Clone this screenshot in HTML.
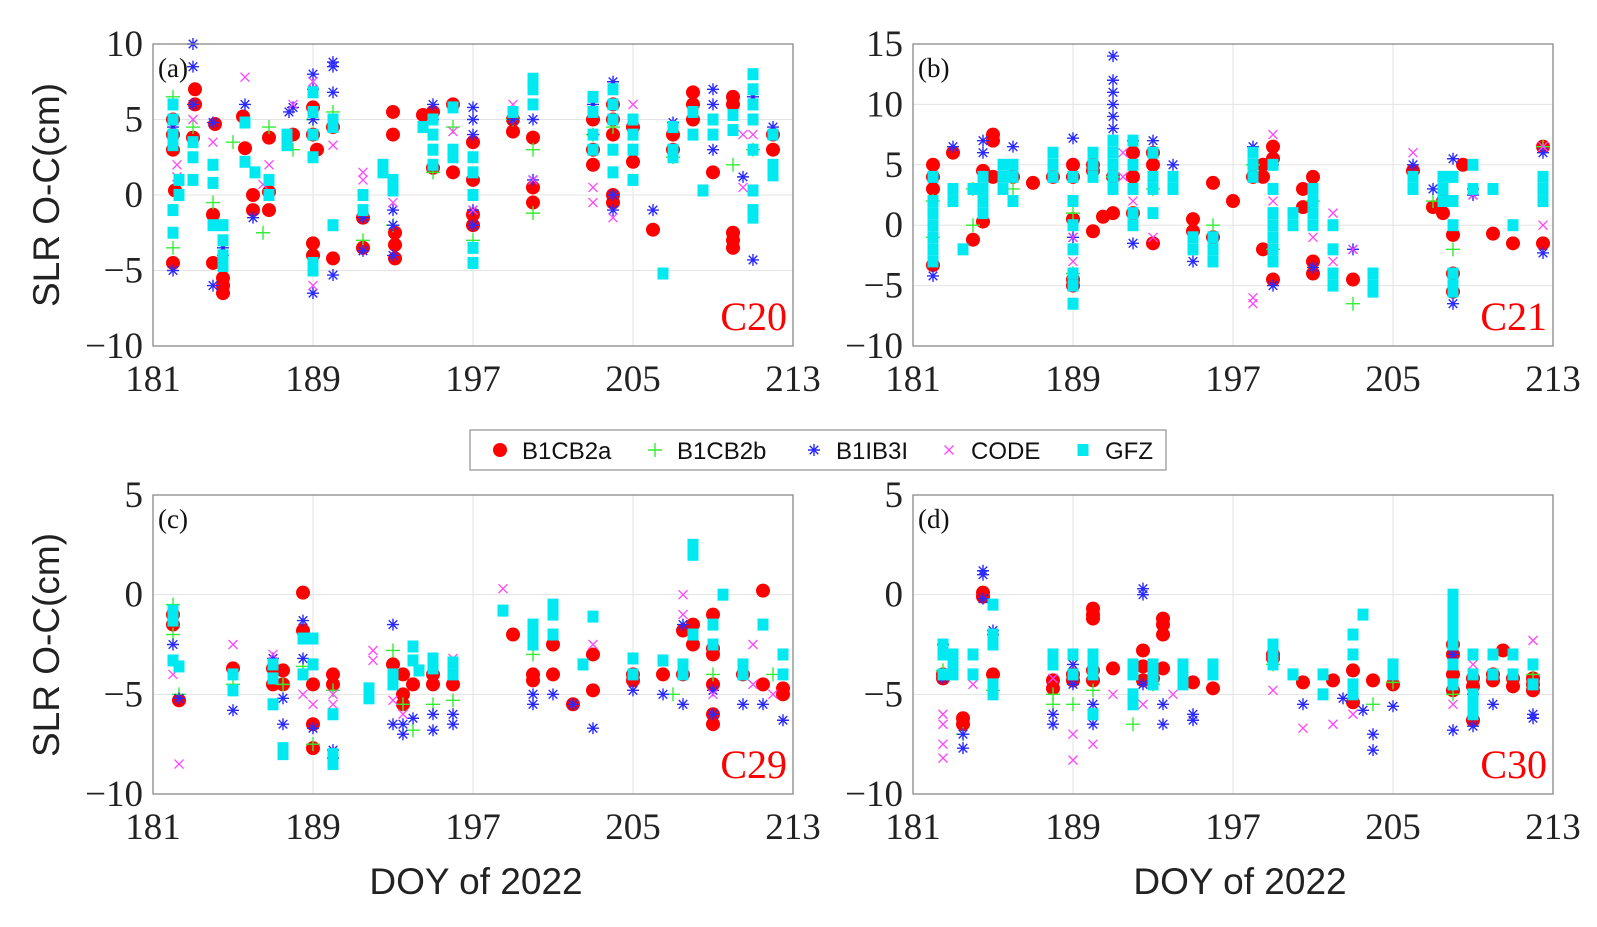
<!DOCTYPE html>
<html><head><meta charset="utf-8">
<style>
html,body{margin:0;padding:0;background:#fff;}
svg{display:block;}
.tick{font-family:"Liberation Serif",serif;font-size:37px;fill:#222;}
.ttl{font-family:"Liberation Sans",sans-serif;font-size:37px;fill:#222;}
.plab{font-family:"Liberation Serif",serif;font-size:27px;fill:#111;}
.sat{font-family:"Liberation Serif",serif;font-size:40px;fill:#ff0000;}
.leg{font-family:"Liberation Sans",sans-serif;font-size:24px;fill:#111;}
</style></head>
<body>
<svg id="chart" width="1597" height="927" viewBox="0 0 1597 927" xmlns="http://www.w3.org/2000/svg"></svg>
<script>
// ---------- data: [doy, residual cm] ----------
const a_B1CB2a=[[182,-4.5],[182,5],[182,4],[182,3],[182.1,0.3],[183.1,7],[183.1,6],[183,3.8],[184.1,4.7],[184,-1.3],[184,-4.5],[184.5,-5.5],[184.5,-6],[184.5,-6.5],[185.5,5.2],[185.6,3.1],[186,0],[186,-1],[186.8,3.8],[186.8,-1],[186.8,0.2],[188,4],[189,-3.2],[189,-4],[189,5.8],[189,4],[189.2,3],[190,-4.2],[190,4.5],[191.5,-1.5],[191.5,-3.5],[193,5.5],[193,4],[193.1,-2.5],[193.1,-3.3],[193.1,-4.2],[194.5,5.3],[195,5.5],[195,1.8],[196,6],[196,1.5],[197,3.5],[197,1],[197,-1.3],[197,-2],[199,5],[199,4.2],[200,3.8],[200,0.5],[200,-0.5],[203,5],[203,3],[203,2],[204,6],[204,5],[204,4],[204,0],[204,-0.5],[205,4.5],[205,2.2],[206,-2.3],[207,4],[207,3],[208,6.8],[208,6],[208,5],[209,1.5],[210,6.5],[210,6],[210,-2.5],[210,-3],[210,-3.5],[212,4],[212,3]];
const a_B1CB2b=[[182,-3.5],[182,6.5],[183,4.5],[184,-0.5],[185,3.5],[186.5,-2.5],[186.8,4.5],[188,3],[189,5],[190,5.5],[191.5,-3],[193,-2],[195,1.5],[196,4.5],[197,-3],[199,5],[200,-1.2],[200,3],[203,4],[204,4.5],[207,2.5],[210,2],[211,3]];
const a_B1IB3I=[[182,-5],[182,4.5],[183,10],[183,8.5],[183,6],[184,-6],[184,4.8],[184.5,-4],[184.5,-3.5],[185.6,6],[186,-1.5],[187.8,5.5],[188,5.8],[189,-6.5],[189,8],[189,7],[189,5],[190,8.8],[190,8.5],[190,6.8],[190,-5.3],[191.5,-3.7],[191.5,-1.5],[193,-1],[193,-2],[193,-4],[195,6],[195,5],[197,5.8],[197,5],[197,4],[197,-1],[197,-2],[199,5],[200,5],[200,1],[203,6],[203,4],[204,7.5],[204,6],[204,0],[204,-1],[206,-1],[207,4.8],[207,3],[209,7],[209,6],[209,3],[210.5,1.2],[211,6.5],[211,-4.3],[212,4.5]];
const a_CODE=[[182.2,2],[182.2,1.2],[183,5],[184,3.5],[185.6,7.8],[186.5,0.7],[186.8,2],[188,6],[189,-6],[189,7.5],[190,3.3],[191.5,1.5],[191.5,1],[193,-0.5],[195,3],[196,4.2],[197,-1],[199,6],[200,1],[203,0.5],[203,-0.5],[204,-1.5],[205,6],[208,4],[210.5,4],[210.5,0.5],[211,4]];
const a_GFZ=[[182,6],[182,5],[182,4],[182,3.3],[182,-1],[182,-2.5],[182.3,1],[182.3,0],[183,3.5],[183,2.5],[183,1],[184,2],[184,0.8],[184,-2],[184.5,-2],[184.5,-3],[184.5,-4],[184.5,-4.7],[185.6,4.8],[185.6,2.2],[186.1,1.5],[186.8,1],[186.8,0],[187.7,4],[187.7,3.3],[189,-4.5],[189,-5],[189,6.8],[189,5.5],[189,4],[189,2.5],[190,-2],[190,4.5],[190,5],[191.5,0],[191.5,-1],[192.5,2],[192.5,1.5],[193,1],[193,0.3],[194.5,4.5],[195,5],[195,4],[195,3],[195,2],[196,5.8],[196,3],[196,2.5],[197,2.5],[197,1.5],[197,0],[197,-3.5],[197,-4.5],[199,5.5],[200,7.7],[200,7],[200,6],[203,6.5],[203,5.5],[203,4],[203,3],[204,7],[204,6],[204,5],[204,3],[204,1.5],[205,5],[205,4],[205,3],[205,1],[206.5,-5.2],[207,4.5],[207,3],[207,2.5],[208,5.5],[208,4],[208.5,0.3],[209,5],[209,4],[210,5.3],[210,4.3],[211,8],[211,7],[211,6],[211,5],[211,3],[211,0.3],[211,-1],[211,-1.5],[212,4],[212,2],[212,1.3]];

const b_B1CB2a=[[182,5],[182,4],[182,3],[182,-3.3],[183,6],[184,-1.2],[184.5,4.5],[184.5,0.3],[185,7.5],[185,7],[185,4],[186,4],[187,3.5],[188,4],[189,5],[189,4],[189,0.5],[189,-4.5],[189,-5],[190,5],[190,4.5],[190,-0.5],[190.5,0.7],[191,1],[191,4],[192,6],[192,4],[192,1],[193,6],[193,5],[193,-1.5],[195,0.5],[195,-0.5],[196,3.5],[196,-1],[197,2],[198,4],[198.5,5],[198.5,4],[198.5,-2],[199,5.5],[199,6.5],[199,-4.5],[200.5,3],[200.5,1.5],[201,4],[201,-3],[201,-4],[203,-4.5],[206,4.5],[207,1.5],[207.5,2],[207.5,1],[208,-0.8],[208,-4],[208,-5.5],[208.5,5],[210,-0.7],[211,-1.5],[212.5,6.5],[212.5,-1.5]];
const b_B1CB2b=[[182,2],[182,-1],[184,3],[184,0],[186,3],[189,-4],[189,1],[191,4],[193,3],[196,0],[198,5],[199,-2],[201,2],[203,-6.5],[207,2],[208,-2],[212.5,6.5]];
const b_B1IB3I=[[182,-4.2],[182,4],[183,6.5],[184.5,6],[184.5,7],[186,6.5],[189,7.2],[189,-1],[189,-5],[191,14],[191,12],[191,11],[191,10],[191,9],[191,8],[192,7],[192,-1.5],[193,7],[194,5],[195,-3],[196,-1],[198,6.5],[199,5],[199,-5],[201,-3.5],[203,-2],[206,5],[207,3],[208,5.5],[208,-6.5],[209,3],[209,2.5],[212.5,6],[212.5,-2.3]];
const b_CODE=[[189,-1],[189,-3],[191.5,6],[191.5,4],[192,3],[192,2],[193,-1],[198,-6.5],[198,-6],[199,7.5],[199,2],[201,-1],[202,-2],[202,-3],[202,1],[203,-2],[206,6],[209,2.5],[212.5,6.5],[212.5,0]];
const b_GFZ=[[182,4],[182,2],[182,1],[182,0],[182,-1],[182,-2],[182,-3],[183,3],[183,2],[183.5,-2],[184,3],[184.5,4],[184.5,3],[184.5,2],[184.5,1],[185.5,5],[185.5,4],[185.5,3],[186,5],[186,4],[186,2],[188,6],[188,5],[188,4],[189,4],[189,2],[189,0],[189,-2],[189,-4],[189,-5],[189,-6.5],[190,6],[190,5],[190,4],[191,7],[191,6],[191,5],[191,4],[191,3],[192,7],[192,5],[192,3],[192,1],[192,0],[193,6],[193,4],[193,3],[193,1],[194,4],[194,3],[195,-1],[195,-2],[196,-1],[196,-2],[196,-3],[198,6],[198,5],[198,4],[199,5],[199,3],[199,1],[199,0],[199,-1],[199,-2],[199,-3],[200,1],[200,0],[201,3],[201,2],[201,1],[201,0],[202,0],[202,-2],[202,-4],[202,-5],[204,-4],[204,-5],[204,-5.5],[206,4],[206,3],[207.5,4],[207.5,3],[207.5,2],[208,4],[208,2],[208,0],[208,-4],[208,-5],[208,-5.5],[209,5],[209,3],[210,3],[211,0],[212.5,4],[212.5,3],[212.5,2]];

const c_B1CB2a=[[182,-1],[182,-1.5],[182.3,-5.3],[185,-3.7],[187,-3.7],[187,-4.5],[187.5,-4.5],[187.5,-3.8],[188.5,0.1],[188.5,-1.8],[189,-4.5],[189,-6.5],[189,-7.7],[190,-4],[190,-4.5],[193,-3.5],[193.5,-4],[193.5,-5],[193.5,-5.5],[194,-4.5],[195,-4.5],[195,-4],[196,-4.5],[199,-2],[200,-4],[200,-4.3],[201,-2.5],[201,-4],[202,-5.5],[203,-3],[203,-4.8],[205,-4],[205,-4.3],[206.5,-4],[207.5,-4],[207.5,-1.8],[208,-1.5],[208,-2.5],[209,-6],[209,-6.5],[209,-4.5],[209,-3],[209,-1],[209,-2.7],[210.5,-4],[211.5,0.2],[211.5,-4.5],[212.5,-5],[212.5,-4.7]];
const c_B1CB2b=[[182,-0.5],[182,-2],[182.3,-5],[185,-4.5],[187.5,-4.5],[188.5,-3.6],[189,-7.5],[190,-4.8],[193,-2.8],[193.5,-5.5],[194,-6.8],[195,-5.5],[196,-5.3],[200,-3],[207,-5],[209,-4],[212,-4]];
const c_B1IB3I=[[182,-2.5],[182.3,-5.2],[185,-5.8],[187,-3.2],[187.5,-5.2],[187.5,-6.5],[188.5,-1.3],[188.5,-3.2],[189,-6.7],[190,-7.8],[190,-8.2],[193,-1.5],[193,-6.5],[193.5,-7],[193.5,-6.5],[194,-6.2],[195,-6.8],[195,-6],[196,-6],[196,-6.5],[200,-5],[200,-5.5],[201,-5],[202,-5.5],[203,-6.7],[205,-4.8],[206.5,-5],[207.5,-5.5],[207.5,-1.5],[209,-6],[209,-4.8],[210.5,-5.5],[211.5,-5.5],[212.5,-6.3]];
const c_CODE=[[182,-4],[182.3,-8.5],[185,-2.5],[187,-3],[188.5,-5],[189,-5.5],[190,-5],[190,-5.5],[192,-2.8],[192,-3.3],[193,-5.3],[193.5,-6],[196,-3.2],[198.5,0.3],[200,-1.5],[201,-2],[203,-2.5],[207.5,0],[207.5,-1],[209,-5],[211,-2.5],[211,-4.5],[212,-5]];
const c_GFZ=[[182,-0.8],[182,-1.3],[182,-3.3],[182.3,-3.6],[185,-4],[185,-4.8],[187,-3.5],[187,-4.2],[187,-5.5],[187.5,-7.7],[187.5,-8],[188.5,-2.2],[188.5,-4],[189,-2.2],[189,-3.5],[190,-8.5],[190,-8],[190,-6],[191.8,-4.7],[191.8,-5.2],[193,-4.5],[193,-4],[194,-2.6],[194,-3.3],[194.3,-3.8],[195,-3.2],[195,-3.7],[196,-3.4],[196,-4],[198.5,-0.8],[200,-2],[200,-1.5],[200,-2.5],[201,-0.5],[201,-1],[201,-2],[202.5,-3.5],[203,-1.1],[205,-3.2],[205,-4],[206.5,-3.3],[207.5,-3.5],[207.5,-4],[208,2.5],[208,2],[208,-2],[209,-1.5],[209,-2.5],[209.5,0],[210.5,-3.5],[210.5,-4],[211.5,-1.5],[212.5,-3],[212.5,-4]];

const d_B1CB2a=[[182.5,-4],[182.5,-4.2],[183.5,-6.2],[183.5,-6.5],[184.5,0.1],[184.5,-0.1],[185,-4],[188,-4.3],[188,-4.7],[189,-4],[189,-4.3],[190,-0.7],[190,-1],[190,-1.2],[190,-3.8],[190,-4.3],[191,-3.7],[192.5,-2.8],[192.5,-3.6],[192.5,-4.3],[193,-4.2],[193.5,-1.2],[193.5,-1.5],[193.5,-2],[193.5,-3.7],[195,-4.4],[196,-4.7],[199,-3],[199,-3.2],[200.5,-4.4],[202,-4.3],[203,-5.4],[203,-3.8],[204,-4.3],[205,-4.5],[208,-2.5],[208,-3],[208,-4],[208,-4.8],[209,-4.2],[209,-4.6],[209,-6.3],[210,-4],[210,-4.3],[210.5,-2.8],[211,-4.2],[211,-4.6],[212,-4.2],[212,-4.5],[212,-4.8]];
const d_B1CB2b=[[182.5,-3.8],[183.5,-7],[185,-4.8],[188,-5.5],[188,-5],[189,-5.5],[190,-4.8],[192,-6.5],[193,-4.5],[199,-3.5],[204,-5.5],[205,-4.4],[208,-5],[212,-4]];
const d_B1IB3I=[[182.5,-2.5],[182.5,-4.2],[183.5,-7],[183.5,-7.7],[184.5,1.2],[184.5,1],[184.5,-0.2],[185,-2],[185,-1.8],[188,-6],[188,-6.5],[189,-3.5],[189,-4.5],[190,-5.5],[190,-6.5],[192.5,0.3],[192.5,0],[192.5,-4.5],[193.5,-5.5],[193.5,-6.5],[195,-6],[195,-6.3],[199,-3],[200.5,-5.5],[202.5,-5.2],[203.5,-5.8],[204,-7],[204,-7.8],[205,-5.6],[208,-3],[208,-6.8],[209,-5],[209,-6.6],[210,-5.5],[212,-6],[212,-6.2]];
const d_CODE=[[182.5,-6],[182.5,-6.5],[182.5,-7.5],[182.5,-8.2],[184,-4.5],[185,-5],[188,-4.2],[189,-7],[189,-8.3],[190,-7.5],[191,-5],[192.5,-5.5],[194,-5],[196,-3.5],[199,-4.8],[200.5,-6.7],[202,-6.5],[203,-6],[208,-5.5],[209,-5.5],[209,-3.5],[211,-3],[212,-2.3]];
const d_GFZ=[[182.5,-2.5],[182.5,-3],[182.5,-4],[183,-3],[183,-3.5],[183,-4],[184,-3],[184,-4],[185,-0.5],[185,-2],[185,-2.5],[185,-4.5],[185,-5],[188,-3],[188,-3.5],[189,-3],[189,-4],[190,-3],[190,-3.5],[190,-4],[190,-6],[192,-3.5],[192,-4],[192,-5],[192,-5.5],[193,-3.5],[193,-4],[193,-4.5],[194.5,-3.5],[194.5,-4],[194.5,-4.5],[196,-3.5],[196,-4],[199,-2.5],[199,-3],[199,-3.5],[200,-4],[201.5,-4],[201.5,-5],[203,-4.5],[203,-5],[203,-3],[203,-2],[203.5,-1],[205,-3.5],[205,-4],[208,0],[208,-0.5],[208,-1],[208,-1.5],[208,-2],[208,-2.5],[208,-3.5],[208,-4.5],[209,-4],[209,-5],[209,-5.5],[209,-6],[209,-3],[210,-3],[210,-4],[211,-3],[211,-4],[212,-3.5],[212,-4.5]];

const xTicks=[181,189,197,205,213];
const yTicksA=[-10,-5,0,5,10];
const yTicksB=[-10,-5,0,5,10,15];
const yTicksCD=[-10,-5,0,5];
const seriesNames=["B1CB2a","B1CB2b","B1IB3I","CODE","GFZ"];

// ---------- drawing ----------
const NS="http://www.w3.org/2000/svg";
const svg=document.getElementById('chart');
function mk(tag,attrs,parent){const e=document.createElementNS(NS,tag);for(const k in attrs)e.setAttribute(k,attrs[k]);(parent||svg).appendChild(e);return e;}
function fmt(v){return v<0?'\u2212'+Math.abs(v):String(v);}

function marker(g,type,x,y){
  let e;
  if(type==='B1CB2a'){e=mk('circle',{cx:x,cy:y,r:7,fill:'#ff0000'},g);}
  else if(type==='B1CB2b'){e=mk('path',{d:`M${x-7} ${y}H${x+7}M${x} ${y-7}V${y+7}`,stroke:'#33ee33','stroke-width':1.4,fill:'none'},g);}
  else if(type==='B1IB3I'){e=mk('path',{d:`M${x-6} ${y}H${x+6}M${x} ${y-6}V${y+6}M${x-4.3} ${y-4.3}L${x+4.3} ${y+4.3}M${x-4.3} ${y+4.3}L${x+4.3} ${y-4.3}`,stroke:'#2a2aff','stroke-width':1.4,fill:'none'},g);}
  else if(type==='CODE'){e=mk('path',{d:`M${x-4.5} ${y-4.5}L${x+4.5} ${y+4.5}M${x-4.5} ${y+4.5}L${x+4.5} ${y-4.5}`,stroke:'#ff44ff','stroke-width':1.3,fill:'none'},g);}
  else {e=mk('rect',{x:x-5.5,y:y-6,width:11,height:12,fill:'#00e8f0'},g);}
  return e;
}

function panel(id,x0,y0,w,h,ymin,ymax,yTicks,label,sat,data){
  const g=mk('g',{});
  
  
  const sx=v=>x0+(v-181)/(213-181)*w;
  const sy=v=>y0+h-(v-ymin)/(ymax-ymin)*h;
  mk('rect',{x:x0,y:y0,width:w,height:h,fill:'#fff'},g);
  xTicks.forEach(t=>{
    const gl=mk('line',{x1:sx(t),x2:sx(t),y1:y0,y2:y0+h,stroke:'#e3e3e3','stroke-width':1},g);
    
    const tl=mk('text',{x:sx(t),y:y0+h+45,'text-anchor':'middle',class:'tick'},g);tl.textContent=t;
    
  });
  yTicks.forEach(t=>{
    const gl=mk('line',{x1:x0,x2:x0+w,y1:sy(t),y2:sy(t),stroke:'#e3e3e3','stroke-width':1},g);
    
    const tl=mk('text',{x:x0-10,y:sy(t)+12,'text-anchor':'end',class:'tick'},g);tl.textContent=fmt(t);
    
  });
  const pg=mk('g',{},g);
  
  seriesNames.forEach((s,i)=>{
    data[i].forEach(p=>{
      const m=marker(pg,s,sx(p[0]),sy(p[1]));
      
      
    });
  });
  const fr=mk('rect',{x:x0,y:y0,width:w,height:h,fill:'none',stroke:'#888','stroke-width':1.3},g);
  
  const pl=mk('text',{x:x0+5,y:y0+33,class:'plab'},g);pl.textContent=label;
  
  const st=mk('text',{x:x0+w-6,y:y0+h-16,'text-anchor':'end',class:'sat'},g);st.textContent=sat;
  
}

panel('a',153,44,640,302,-10,10,yTicksA,'(a)','C20',[a_B1CB2a,a_B1CB2b,a_B1IB3I,a_CODE,a_GFZ]);
panel('b',913,44,640,302,-10,15,yTicksB,'(b)','C21',[b_B1CB2a,b_B1CB2b,b_B1IB3I,b_CODE,b_GFZ]);
panel('c',153,495,640,299,-10,5,yTicksCD,'(c)','C29',[c_B1CB2a,c_B1CB2b,c_B1IB3I,c_CODE,c_GFZ]);
panel('d',913,495,640,299,-10,5,yTicksCD,'(d)','C30',[d_B1CB2a,d_B1CB2b,d_B1IB3I,d_CODE,d_GFZ]);

// axis titles
[[195],[645]].forEach(c=>{
  const t=mk('text',{x:0,y:0,'text-anchor':'middle',class:'ttl',transform:`translate(59,${c[0]}) rotate(-90)`});
  t.textContent='SLR O-C(cm)';
  
  
});
[476,1240].forEach(x=>{
  const t=mk('text',{x:x,y:894,'text-anchor':'middle',class:'ttl'});
  t.textContent='DOY of 2022';
  
  
});

// legend
const lg=mk('g',{});


mk('rect',{x:470,y:430,width:696,height:40,fill:'#fff',stroke:'#999','stroke-width':1.3},lg);
const legX=[500,655,814,949,1083];
seriesNames.forEach((s,i)=>{
  const eg=mk('g',{},lg);
  
  
  marker(eg,s,legX[i],450);
  const t=mk('text',{x:legX[i]+22,y:459,class:'leg'},eg);t.textContent=s;
});
</script>
</body></html>
